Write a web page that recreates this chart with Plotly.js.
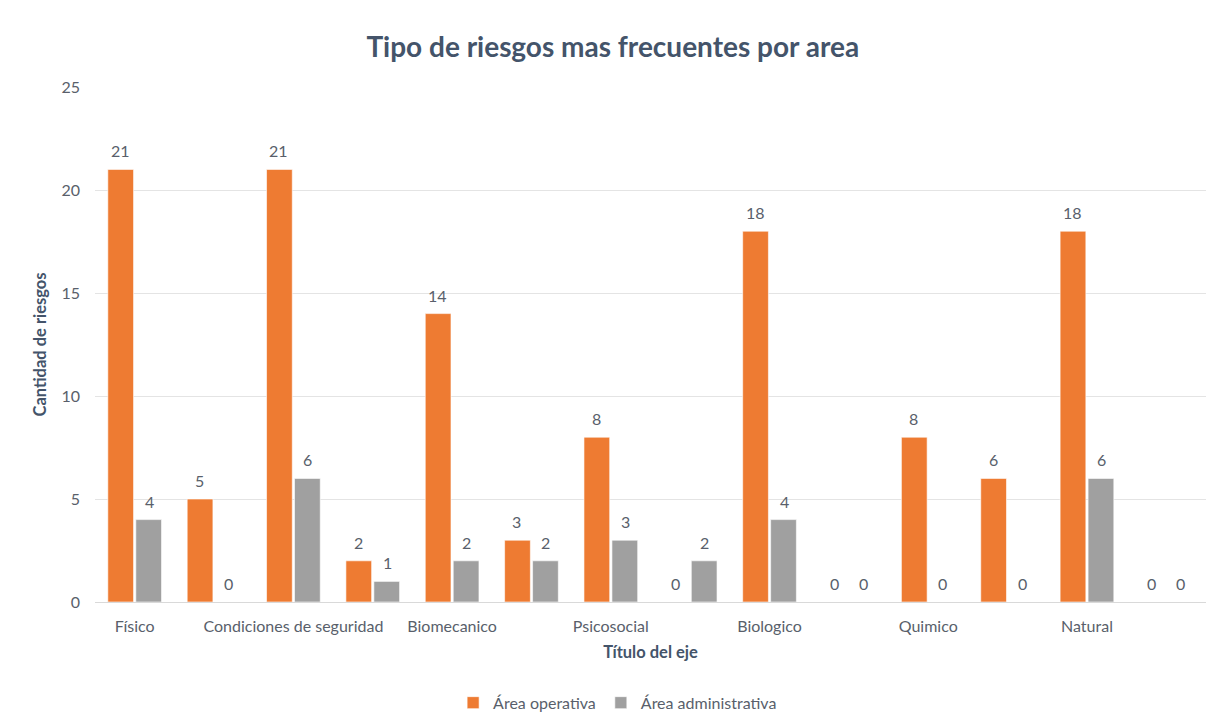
<!DOCTYPE html>
<html><head><meta charset="utf-8">
<script src="https://cdn.plot.ly/plotly-3.0.1.min.js"></script>
<style>
html,body{margin:0;padding:0;background:#fff;}
#chart{width:1211px;height:723px;}
#border{position:absolute;left:10px;top:13px;width:1px;height:710px;background:#d9d9d9;}
</style></head>
<body>
<div id="border"></div>
<div id="chart"></div>
<script>
const positions = [0,1,2,3,4,5,6,7,8,9,10,11,12,13];
const tickPositions = [0,2,4,6,8,10,12];
const tickLabels = ["Físico","Condiciones de seguridad","Biomecanico","Psicosocial","Biologico","Quimico","Natural"];
const operativa = [21,5,21,2,14,3,8,0,18,0,8,6,18,0];
const administrativa = [4,0,6,1,2,2,3,2,4,0,0,0,6,0];

const font = "Lato, 'Open Sans', sans-serif";
const textColor = "#595f6b";

const traces = [
  {type:'bar', name:'Área operativa', x:positions, y:operativa,
   marker:{color:'#EE7B32', line:{color:'rgba(255,255,255,0.6)', width:1}}, hoverinfo:'y'},
  {type:'bar', name:'Área administrativa', x:positions, y:administrativa,
   marker:{color:'#A0A0A0', line:{color:'rgba(255,255,255,0.6)', width:1}}, hoverinfo:'y'}
];

const annotations = [];
positions.forEach((p,i)=>{
  annotations.push({x:p, y:operativa[i], xref:'x', yref:'y', text:String(operativa[i]), showarrow:false,
    xshift:-14.5, yshift:7, yanchor:'bottom', font:{family:font, size:16, color:textColor}});
  annotations.push({x:p, y:administrativa[i], xref:'x', yref:'y', text:String(administrativa[i]), showarrow:false,
    xshift:14.5, yshift:7, yanchor:'bottom', font:{family:font, size:16, color:textColor}});
});

const layout = {
  width:1211, height:723,
  margin:{l:95, r:5, t:87, b:121},
  paper_bgcolor:'#fff', plot_bgcolor:'#fff',
  barmode:'group', bargap:0.295, bargroupgap:0.08,
  title:{text:'<b>Tipo de riesgos mas frecuentes por area</b>', x:0.506, xref:'container', xanchor:'center',
    y:0.935, yref:'container', yanchor:'middle', font:{family:font, size:28, color:'#44546A'}},
  xaxis:{range:[-0.5,13.5], tickmode:'array', tickvals:tickPositions, ticktext:tickLabels,
    showgrid:false, zeroline:false, showline:true, linecolor:'#D9D9D9', linewidth:1, ticks:'',
    ticklabelstandoff:10, tickfont:{family:font, size:16, color:textColor},
    title:{text:'<b>Título del eje</b>', standoff:12, font:{family:font, size:16.5, color:'#44546A'}}},
  yaxis:{range:[0,25], tickvals:[0,5,10,15,20,25], showgrid:true, gridcolor:'#E4E4E4', gridwidth:1,
    zeroline:false, ticks:'', ticklabelstandoff:14, tickfont:{family:font, size:16, color:textColor},
    title:{text:'<b>Cantidad de riesgos</b>', standoff:10, font:{family:font, size:16.5, color:'#44546A'}}},
  showlegend:true,
  legend:{orientation:'h', x:0.51, xref:'container', xanchor:'center', y:0.028, yref:'container', yanchor:'middle',
    font:{family:font, size:16, color:textColor}, itemwidth:30, traceorder:'normal'},
  annotations:annotations
};

Plotly.newPlot('chart', traces, layout, {displayModeBar:false, staticPlot:true});
</script>
</body></html>
